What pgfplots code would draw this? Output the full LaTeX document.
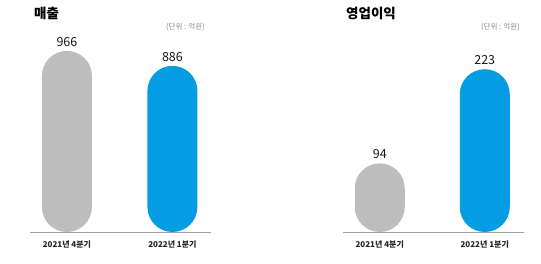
\documentclass[border=0pt]{standalone}
\usepackage{pgfplots}
\pgfplotsset{compat=1.18}
\usepackage{fontspec}
\setmainfont{Noto Sans CJK KR}
\definecolor{bargray}{HTML}{BDBDBD}
\definecolor{barblue}{HTML}{049CE3}
\definecolor{basegray}{HTML}{A0A0A0}
\definecolor{gridgray}{HTML}{E6E6E6}
\definecolor{unitgray}{HTML}{8A8A8A}
\pgfplotsset{
  panel/.style={
    scale only axis, anchor=south west,
    ymin=0, xmin=-0.35, xmax=1.37,
    axis x line*=bottom, axis y line=none,
    x axis line style={basegray, line width=0.8pt, -},
    ymajorgrids, grid style={gridgray, line width=0.6pt},
    major tick length=0pt,
    xtick={0,1}, xticklabels={2021년 4분기, 2022년 1분기},
    xticklabel style={font=\fontsize{8}{9}\selectfont\bfseries, text=black!85, yshift=-5pt},
    yticklabels={},
    /pgf/number format/assume math mode=true,
    ybar, bar width=50pt, bar shift=0pt,
    nodes near coords,
    every node near coord/.append style={font=\fontsize{12.5}{14}\selectfont, text=black!90, yshift=1pt},
    clip=false,
  }
}
\begin{document}
\begin{tikzpicture}
\useasboundingbox (0pt,0pt) rectangle (541pt,263pt);
\begin{axis}[panel, at={(30pt,31pt)}, x=105.5pt, y=0.1875pt, ymax=1100,
  ytick={208,416,624,832}]
\addplot[fill=bargray, draw=none, rounded corners=25pt] coordinates {(0,966)};
\addplot[fill=barblue, draw=none, rounded corners=25pt] coordinates {(1,886)};
\end{axis}
\begin{axis}[panel, at={(343pt,31pt)}, x=105pt, y=0.73pt, ymax=280,
  ytick={53.4,106.8,160.3,213.7}]
\addplot[fill=bargray, draw=none, rounded corners=25pt] coordinates {(0,94)};
\addplot[fill=barblue, draw=none, rounded corners=25pt] coordinates {(1,223)};
\end{axis}
\node[anchor=west, font=\fontsize{13.5}{15}\selectfont\bfseries, inner sep=0pt] at (34pt,250pt) {매출};
\node[anchor=west, font=\fontsize{13.5}{15}\selectfont\bfseries, inner sep=0pt] at (346pt,250pt) {영업이익};
\node[anchor=east, font=\fontsize{7.5}{9}\selectfont, text=unitgray, inner sep=0pt] at (205pt,236pt) {(단위 : 억원)};
\node[anchor=east, font=\fontsize{7.5}{9}\selectfont, text=unitgray, inner sep=0pt] at (520pt,236pt) {(단위 : 억원)};
\end{tikzpicture}
\end{document}
